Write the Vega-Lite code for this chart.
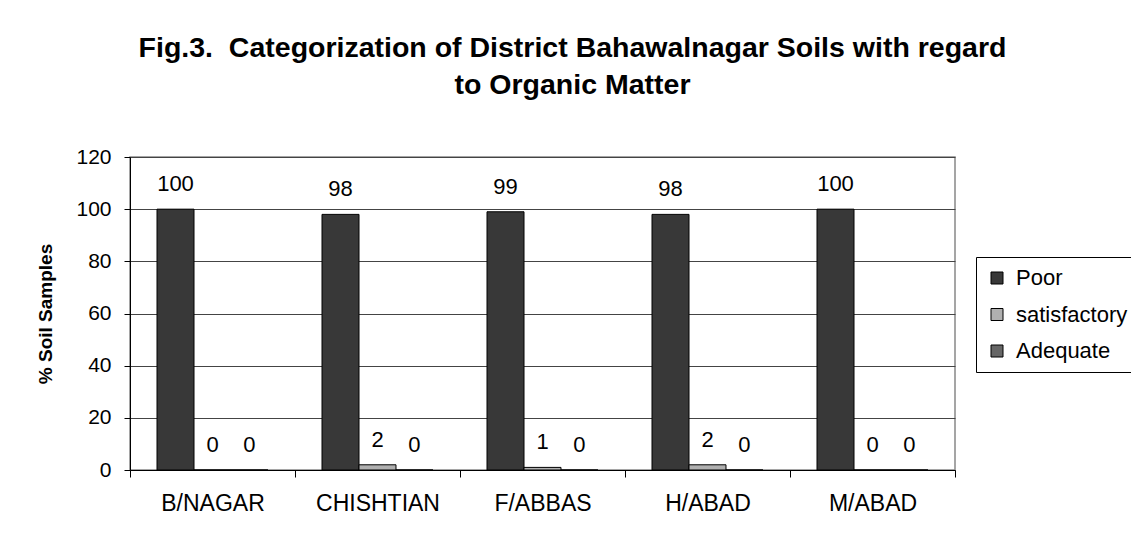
{
  "$schema": "https://vega.github.io/schema/vega-lite/v6.json",
  "width": 825,
  "height": 313,
  "autosize": {"type": "none"},
  "padding": {"left": 130, "top": 157, "right": 176, "bottom": 66},
  "background": "white",
  "title": {
    "text": ["Fig.3.\u00a0 Categorization of District Bahawalnagar Soils with regard", "to Organic Matter"],
    "font": "Liberation Sans",
    "fontSize": 28.5,
    "fontWeight": "bold",
    "color": "black",
    "anchor": "middle",
    "frame": "group",
    "dx": 30,
    "offset": 47,
    "lineHeight": 37
  },
  "data": {
    "values": [
      {"district": "B/NAGAR", "category": "Poor", "value": 100},
      {"district": "B/NAGAR", "category": "satisfactory", "value": 0},
      {"district": "B/NAGAR", "category": "Adequate", "value": 0},
      {"district": "CHISHTIAN", "category": "Poor", "value": 98},
      {"district": "CHISHTIAN", "category": "satisfactory", "value": 2},
      {"district": "CHISHTIAN", "category": "Adequate", "value": 0},
      {"district": "F/ABBAS", "category": "Poor", "value": 99},
      {"district": "F/ABBAS", "category": "satisfactory", "value": 1},
      {"district": "F/ABBAS", "category": "Adequate", "value": 0},
      {"district": "H/ABAD", "category": "Poor", "value": 98},
      {"district": "H/ABAD", "category": "satisfactory", "value": 2},
      {"district": "H/ABAD", "category": "Adequate", "value": 0},
      {"district": "M/ABAD", "category": "Poor", "value": 100},
      {"district": "M/ABAD", "category": "satisfactory", "value": 0},
      {"district": "M/ABAD", "category": "Adequate", "value": 0}
    ]
  },
  "encoding": {
    "x": {
      "field": "district",
      "type": "nominal",
      "sort": null,
      "scale": {"paddingInner": 0, "paddingOuter": 0},
      "axis": {
        "title": null,
        "labelAngle": 0,
        "labelFontSize": 23,
        "tickBand": "extent",
        "tickSize": 7,
        "tickColor": "black",
        "domainColor": "black",
        "labelPadding": 15,
        "grid": false
      }
    },
    "xOffset": {
      "field": "category",
      "sort": ["Poor", "satisfactory", "Adequate"],
      "scale": {"paddingInner": 0, "paddingOuter": 0.73}
    },
    "y": {
      "field": "value",
      "type": "quantitative",
      "scale": {"domain": [0, 120], "nice": false},
      "axis": {
        "title": "% Soil Samples",
        "values": [0, 20, 40, 60, 80, 100, 120],
        "grid": true,
        "gridColor": "#444444",
        "gridOpacity": 1,
        "labelFontSize": 21,
        "tickSize": 6,
        "tickColor": "black",
        "domainColor": "black",
        "labelPadding": 13,
        "titlePadding": 20,
        "titleFontSize": 19,
        "titleFontWeight": "bold"
      }
    }
  },
  "layer": [
    {
      "mark": {"type": "bar", "stroke": "black", "strokeWidth": 1},
      "encoding": {
        "color": {
          "field": "category",
          "type": "nominal",
          "sort": ["Poor", "satisfactory", "Adequate"],
          "scale": {"domain": ["Poor", "satisfactory", "Adequate"], "range": ["#383838", "#b0b0b0", "#666666"]},
          "legend": {
            "title": null,
            "orient": "none",
            "legendX": 846,
            "legendY": 100,
            "strokeColor": "black",
            "padding": 10,
            "symbolType": "square",
            "symbolSize": 144,
            "symbolStrokeColor": "black",
            "symbolStrokeWidth": 1,
            "symbolOpacity": 1,
            "labelFontSize": 22,
            "labelColor": "black",
            "labelOffset": 8,
            "rowPadding": 14.5
          }
        }
      }
    },
    {
      "mark": {"type": "text", "baseline": "alphabetic", "dy": -18, "fontSize": 22, "color": "black"},
      "encoding": {
        "text": {"field": "value", "type": "quantitative"}
      }
    }
  ],
  "config": {
    "font": "Liberation Sans",
    "view": {"stroke": "#888888", "strokeWidth": 1.5},
    "axis": {
      "labelColor": "black",
      "labelFont": "Liberation Sans",
      "titleColor": "black",
      "titleFont": "Liberation Sans"
    },
    "legend": {"labelFont": "Liberation Sans"}
  }
}
